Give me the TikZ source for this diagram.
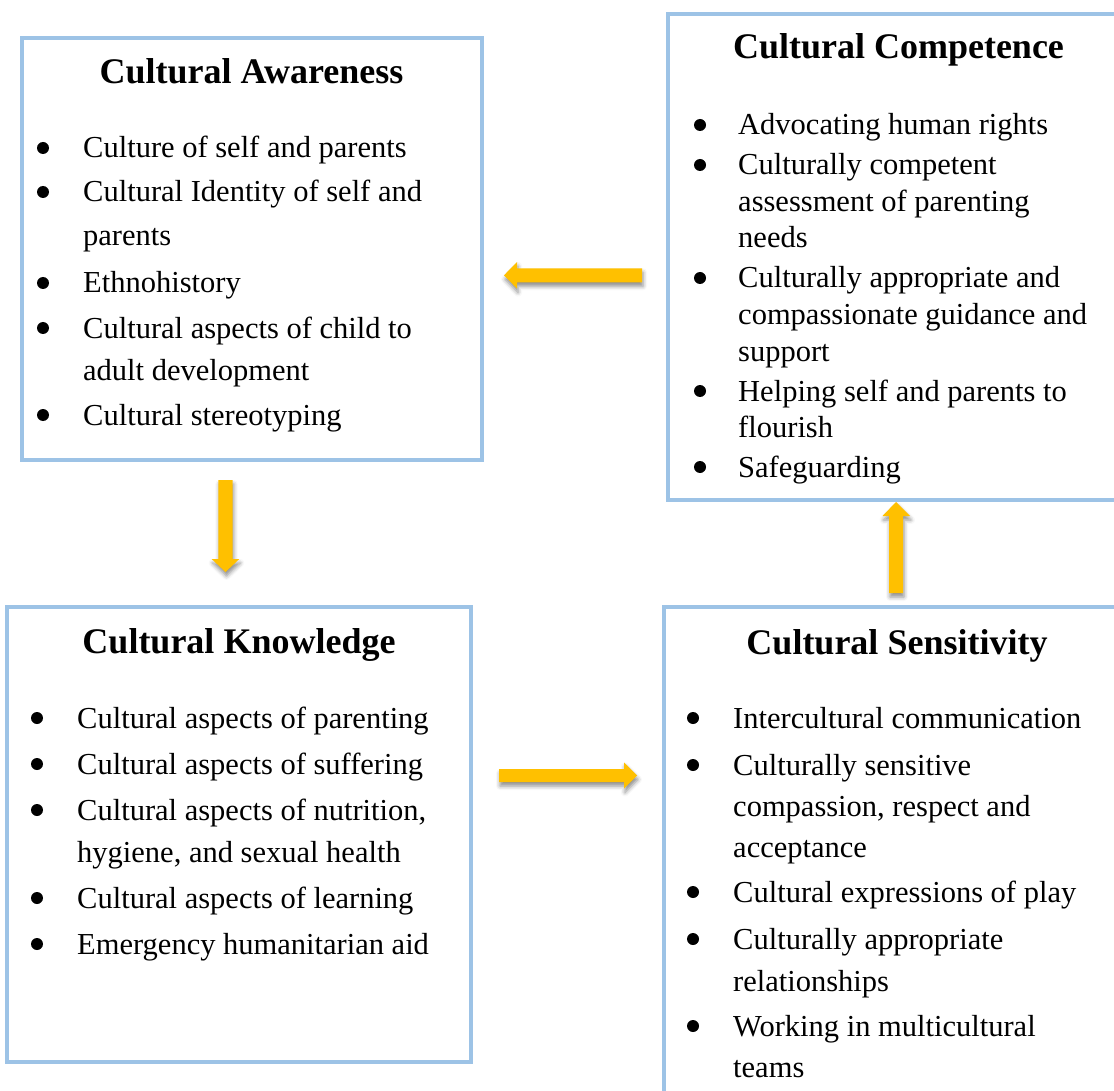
\documentclass[tikz,border=0pt]{standalone}
\usepackage{fontspec}
\setmainfont{Liberation Serif}
\usetikzlibrary{shadows.blur}
\definecolor{frameblue}{HTML}{9DC3E6}
\definecolor{arrowgold}{HTML}{FFC000}
\begin{document}
\begin{tikzpicture}[x=1pt,y=-1pt,
  frame/.style={draw=frameblue, line width=4pt},
  heading/.style={anchor=base, inner sep=0pt, yshift=-2pt, font=\fontsize{36}{42}\selectfont\bfseries},
  entry/.style={anchor=base west, inner sep=0pt, yshift=-4pt, font=\fontsize{30.5}{36}\selectfont},
  dot/.style={circle, fill=black, inner sep=0pt, yshift=-4pt, minimum size=12pt},
  flow/.style={fill=arrowgold, draw=none,
    blur shadow={shadow xshift=1pt, shadow yshift=-4pt, shadow blur radius=4pt, shadow opacity=45}}]
\useasboundingbox (0,0) rectangle (1114,1091);

% ---- frames ----
\draw[frame] (22,38.5) rectangle (481.5,459.5);
\draw[frame] (668,14) rectangle (1135,499.5);
\draw[frame] (7,606.5) rectangle (471,1061.5);
\draw[frame] (664,607) rectangle (1135,1115);

% ---- Cultural Awareness ----
\node[heading] (aw) at (251.5,82) {Cultural Awareness};
\foreach \n/\y in {a1/154, a2/198, a3/289, a4/334, a5/421}
  \node[dot] (\n) at (43,\y-10) {};
\node[entry] (aw1) at (83,154) {Culture of self and parents};
\node[entry] (aw2) at (83,198) {Cultural Identity of self and};
\node[entry] (aw3) at (83,242) {parents};
\node[entry] (aw4) at (83,289) {Ethnohistory};
\node[entry] (aw5) at (83,334) {Cultural aspects of child to};
\node[entry] (aw6) at (83,376) {adult development};
\node[entry] (aw7) at (83,421) {Cultural stereotyping};

% ---- Cultural Competence ----
\node[heading] (cp) at (898.5,57) {Cultural Competence};
\foreach \n/\y in {c1/131, c2/171, c3/284, c4/397, c5/473}
  \node[dot] (\n) at (700,\y-10) {};
\node[entry] (cp1) at (738,131) {Advocating human rights};
\node[entry] (cp2) at (738,171) {Culturally competent};
\node[entry] (cp3) at (738,208) {assessment of parenting};
\node[entry] (cp4) at (738,244) {needs};
\node[entry] (cp5) at (738,284) {Culturally appropriate and};
\node[entry] (cp6) at (738,321) {compassionate guidance and};
\node[entry] (cp7) at (738,357) {support};
\node[entry] (cp8) at (738,397) {Helping self and parents to};
\node[entry] (cp9) at (738,433) {flourish};
\node[entry] (cp10) at (738,473) {Safeguarding};

% ---- Cultural Knowledge ----
\node[heading] (kn) at (239,651) {Cultural Knowledge};
\foreach \n/\y in {k1/724, k2/770, k3/816, k4/904, k5/950}
  \node[dot] (\n) at (37,\y-10) {};
\node[entry] (kn1) at (77,724) {Cultural aspects of parenting};
\node[entry] (kn2) at (77,770) {Cultural aspects of suffering};
\node[entry] (kn3) at (77,816) {Cultural aspects of nutrition,};
\node[entry] (kn4) at (77,858) {hygiene, and sexual health};
\node[entry] (kn5) at (77,904) {Cultural aspects of learning};
\node[entry] (kn6) at (77,950) {Emergency humanitarian aid};

% ---- Cultural Sensitivity ----
\node[heading] (se) at (897,652) {Cultural Sensitivity};
\foreach \n/\y in {s1/724, s2/771, s3/898, s4/945, s5/1032}
  \node[dot] (\n) at (693,\y-10) {};
\node[entry] (se1) at (733,724) {Intercultural communication};
\node[entry] (se2) at (733,771) {Culturally sensitive};
\node[entry] (se3) at (733,812) {compassion, respect and};
\node[entry] (se4) at (733,853) {acceptance};
\node[entry] (se5) at (733,898) {Cultural expressions of play};
\node[entry] (se6) at (733,945) {Culturally appropriate};
\node[entry] (se7) at (733,987) {relationships};
\node[entry] (se8) at (733,1032) {Working in multicultural};
\node[entry] (se9) at (733,1073) {teams};

% ---- block arrows ----
% competence -> awareness (left)
\fill[flow] (642,268.3) -- (517,268.3) -- (517,262) -- (504,275.3)
  -- (517,288.6) -- (517,282.3) -- (642,282.3) -- cycle;
% awareness -> knowledge (down)
\fill[flow] (218.3,480) -- (218.3,559) -- (211.7,559) -- (225.5,572)
  -- (239.3,559) -- (232.7,559) -- (232.7,480) -- cycle;
% knowledge -> sensitivity (right)
\fill[flow] (499,769) -- (624,769) -- (624,762.5) -- (637,775.5)
  -- (624,788.5) -- (624,782) -- (499,782) -- cycle;
% sensitivity -> competence (up)
\fill[flow] (889,593) -- (889,516) -- (882.5,516) -- (896,502)
  -- (910,516) -- (903,516) -- (903,593) -- cycle;
\end{tikzpicture}
\end{document}
